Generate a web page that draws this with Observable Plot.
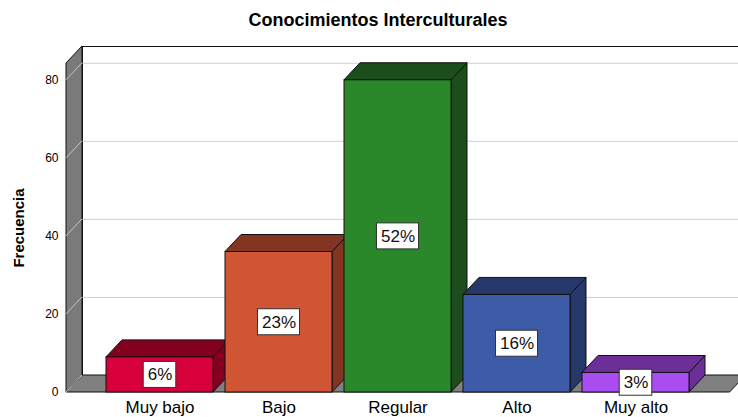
<!DOCTYPE html>
<html><head><meta charset="utf-8">
<script src="https://cdn.jsdelivr.net/npm/d3@7"></script>
<script src="https://cdn.jsdelivr.net/npm/@observablehq/plot@0.6"></script>
<style>
body{margin:0;background:#fff;font-family:"Liberation Sans",Arial,sans-serif;}
#title{height:40px;width:756px;text-align:center;font-weight:bold;font-size:18px;line-height:20px;padding-top:10px;box-sizing:border-box;color:#000;white-space:nowrap;}
#chart svg{display:block;}
</style></head><body>
<div id="title">Conocimientos Interculturales</div>
<div id="chart"></div>
<script>
const categories = ["Muy bajo", "Bajo", "Regular", "Alto", "Muy alto"];
const counts = [9, 36, 80, 25, 5];
const percentLabels = ["6%", "23%", "52%", "16%", "3%"];
const frontColors = ["#d7003a", "#d05535", "#2a872a", "#3e5ba8", "#a94cf2"];
const darkColors = ["#84001f", "#843521", "#1c4d1c", "#26386a", "#6c2e99"];
const yTicks = [0, 20, 40, 60, 80];
const gridTicks = [20, 40, 60, 80];
const yMax = 84.3;

const DX = 16, DY = -17;
const data = categories.map((c, i) => ({cat: c, count: counts[i], pct: percentLabels[i], front: frontColors[i], dark: darkColors[i]}));

function polyStr(pts) { return pts.map(p => p.join(",")).join(" "); }

// left wall + floor
const wallFloor = (index, scales, values, dim) => {
  const y = scales.y;
  const x0 = dim.marginLeft, x1 = dim.width - dim.marginRight;
  const yb = y(0), yt = y(yMax);
  const g = d3.create("svg:g");
  g.append("polygon").attr("points", polyStr([[x0, yb], [x0 + DX, yb + DY], [x1 + DX, yb + DY], [x1, yb]]))
    .attr("fill", "#808080").attr("stroke", "#111").attr("stroke-width", 1);
  g.append("polygon").attr("points", polyStr([[x0, yb], [x0, yt], [x0 + DX, yt + DY], [x0 + DX, yb + DY]]))
    .attr("fill", "#7a7a7a").attr("stroke", "#111").attr("stroke-width", 1);
  for (const v of yTicks) {
    g.append("line").attr("x1", x0).attr("y1", y(v)).attr("x2", x0 + DX).attr("y2", y(v) + DY)
      .attr("stroke", "#c8c8c8").attr("stroke-width", 1);
  }
  return g.node();
};

// bar side & top faces
const barFaces = (index, scales, values, dim) => {
  const x = scales.x, y = scales.y;
  const bw = x.bandwidth();
  const g = d3.create("svg:g");
  for (const d of data) {
    const a = x(d.cat), b = a + bw, top = y(d.count), bot = y(0);
    g.append("polygon").attr("points", polyStr([[b, bot], [b, top], [b + DX, top + DY], [b + DX, bot + DY]]))
      .attr("fill", d.dark).attr("stroke", "#111").attr("stroke-width", 1);
    g.append("polygon").attr("points", polyStr([[a, top], [a + DX, top + DY], [b + DX, top + DY], [b, top]]))
      .attr("fill", d.dark).attr("stroke", "#111").attr("stroke-width", 1);
  }
  return g.node();
};

const measureCtx = document.createElement("canvas").getContext("2d");
measureCtx.font = "17px 'Liberation Sans', Arial, sans-serif";

const labelBoxes = (index, scales, values, dim) => {
  const x = scales.x, y = scales.y;
  const bw = x.bandwidth();
  const g = d3.create("svg:g");
  for (const d of data) {
    const cx = x(d.cat) + bw / 2, cy = y(d.count / 2);
    const w = measureCtx.measureText(d.pct).width + 8, h = 26;
    g.append("rect").attr("x", cx - w / 2).attr("y", cy - h / 2).attr("width", w).attr("height", h)
      .attr("fill", "white").attr("stroke", "#333").attr("stroke-width", 1);
  }
  return g.node();
};

const chart = Plot.plot({
  width: 738,
  height: 377,
  marginTop: 23,
  marginBottom: 25,
  marginLeft: 66,
  marginRight: 8.4,
  style: {fontFamily: "'Liberation Sans', Arial, sans-serif", fontSize: "12px", color: "#000", background: "white", overflow: "visible"},
  x: {domain: categories, paddingInner: 0.1, paddingOuter: 0.326, axis: null},
  y: {domain: [0, yMax], axis: null},
  color: {domain: categories, range: frontColors},
  marks: [
    Plot.frame({fill: "white", stroke: "#111", dx: DX, dy: DY}),
    Plot.ruleY(gridTicks, {stroke: "#d0d0d0", dx: DX, dy: DY}),
    wallFloor,
    barFaces,
    Plot.barY(data, {x: "cat", y: "count", fill: "cat", stroke: "#111", strokeWidth: 1}),
    labelBoxes,
    Plot.text(data, {x: "cat", y: d => d.count / 2, text: "pct", fontSize: 17, fill: "#111"}),
    Plot.axisY(yTicks, {tickSize: 0, tickPadding: 8, fontSize: 12, label: null}),
    Plot.axisX({tickSize: 0, tickPadding: 8, fontSize: 17, label: null}),
    Plot.text(["Frecuencia"], {frameAnchor: "left", textAnchor: "middle", text: d => d, rotate: -90, dx: -47, fontWeight: "bold", fontSize: 15, fill: "#000"})
  ]
});
document.getElementById("chart").appendChild(chart);
</script>
</body></html>
